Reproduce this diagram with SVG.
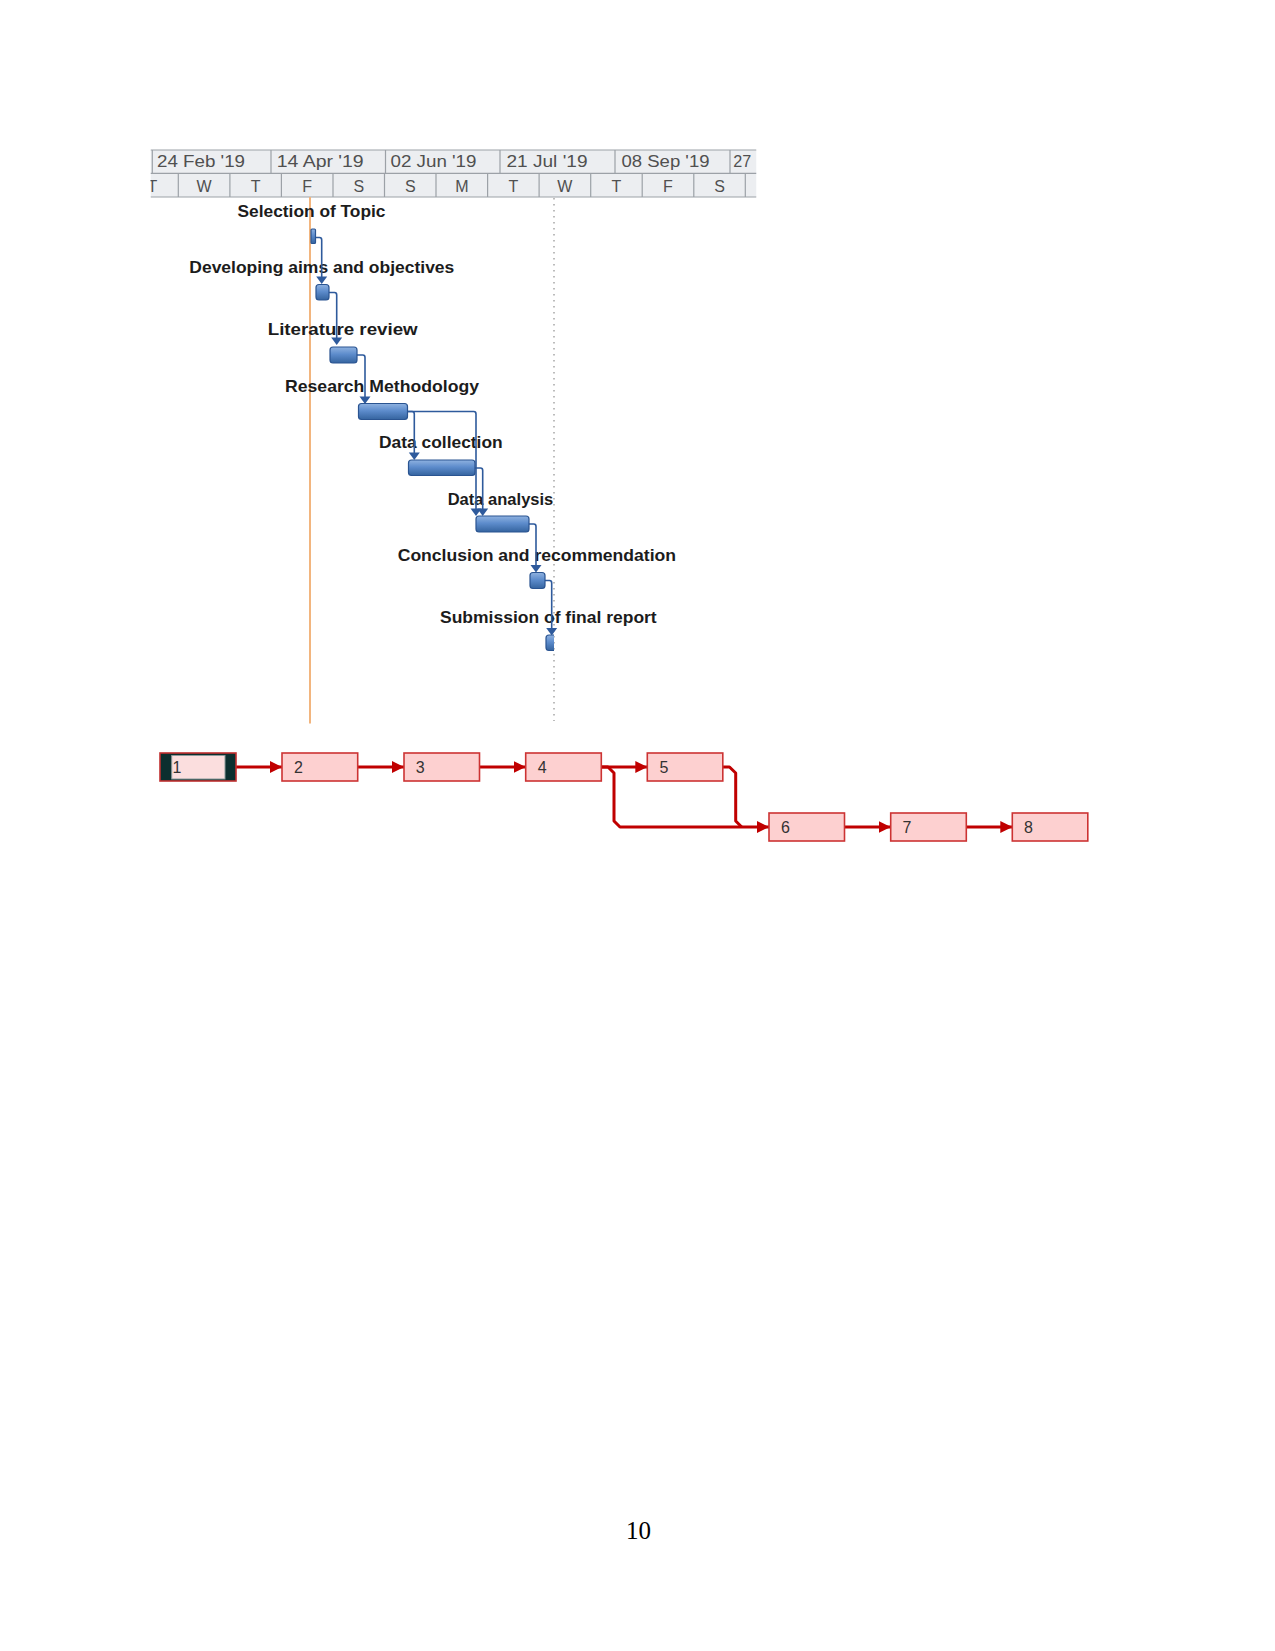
<svg xmlns="http://www.w3.org/2000/svg" width="1275" height="1651" viewBox="0 0 1275 1651">
<style>
.hdr{font-family:"Liberation Sans",Arial,sans-serif;font-size:16px;fill:#505050}
.day{font-family:"Liberation Sans",Arial,sans-serif;font-size:16px;fill:#505050;text-anchor:middle}
.lbl{font-family:"Liberation Sans",Arial,sans-serif;font-size:16.5px;font-weight:bold;fill:#1c1c1c}
.bar{fill:url(#barGrad);stroke:#2a5491;stroke-width:1.2}
.gc{fill:none;stroke:#2e5a9c;stroke-width:1.6}
.gh{fill:#2e5a9c}
.box{fill:#fdd0d0;stroke:#cc3333;stroke-width:1.6}
.num{font-family:"Liberation Sans",Arial,sans-serif;font-size:16px;fill:#333}
.nc{fill:none;stroke:#c00000;stroke-width:3;stroke-linejoin:round}
</style>
<defs>
<linearGradient id="barGrad" x1="0" y1="0" x2="0" y2="1">
<stop offset="0" stop-color="#8fb2e0"/>
<stop offset="0.45" stop-color="#5d8ccc"/>
<stop offset="1" stop-color="#35649f"/>
</linearGradient>
<marker id="ra" viewBox="0 0 10 10" refX="10" refY="5" markerUnits="userSpaceOnUse" markerWidth="12" markerHeight="12" orient="auto">
<path d="M0,0 L10,5 L0,10 z" fill="#c00000"/>
</marker>
<clipPath id="hc"><rect x="150.5" y="149" width="606" height="50"/></clipPath>
<clipPath id="bc"><rect x="540" y="630" width="14" height="25"/></clipPath>
</defs>
<rect width="1275" height="1651" fill="#ffffff"/>

<g id="timescale" clip-path="url(#hc)">
<rect x="150.5" y="150" width="606" height="47" fill="#eceef1"/>
<g stroke="#9ca1a7" stroke-width="1.2">
<line x1="150.5" y1="150" x2="756.5" y2="150"/>
<line x1="150.5" y1="173.3" x2="756.5" y2="173.3"/>
<line x1="150.5" y1="197" x2="756.5" y2="197"/>
<line x1="152.3" y1="150" x2="152.3" y2="173.3"/>
<line x1="271" y1="150" x2="271" y2="173.3"/>
<line x1="385.5" y1="150" x2="385.5" y2="173.3"/>
<line x1="500" y1="150" x2="500" y2="173.3"/>
<line x1="615" y1="150" x2="615" y2="173.3"/>
<line x1="730" y1="150" x2="730" y2="173.3"/>
<line x1="178.3" y1="173.3" x2="178.3" y2="197"/>
<line x1="229.9" y1="173.3" x2="229.9" y2="197"/>
<line x1="281.4" y1="173.3" x2="281.4" y2="197"/>
<line x1="333" y1="173.3" x2="333" y2="197"/>
<line x1="384.5" y1="173.3" x2="384.5" y2="197"/>
<line x1="436" y1="173.3" x2="436" y2="197"/>
<line x1="487.6" y1="173.3" x2="487.6" y2="197"/>
<line x1="539.1" y1="173.3" x2="539.1" y2="197"/>
<line x1="590.7" y1="173.3" x2="590.7" y2="197"/>
<line x1="642.2" y1="173.3" x2="642.2" y2="197"/>
<line x1="693.8" y1="173.3" x2="693.8" y2="197"/>
<line x1="745.3" y1="173.3" x2="745.3" y2="197"/>
</g>
<text class="hdr" x="157" y="166.5" textLength="88" lengthAdjust="spacingAndGlyphs">24 Feb '19</text>
<text class="hdr" x="276.7" y="166.5" textLength="87" lengthAdjust="spacingAndGlyphs">14 Apr '19</text>
<text class="hdr" x="390.5" y="166.5" textLength="86" lengthAdjust="spacingAndGlyphs">02 Jun '19</text>
<text class="hdr" x="506.5" y="166.5" textLength="81" lengthAdjust="spacingAndGlyphs">21 Jul '19</text>
<text class="hdr" x="621.5" y="166.5" textLength="88" lengthAdjust="spacingAndGlyphs">08 Sep '19</text>
<text class="hdr" x="733.3" y="166.5" textLength="18" lengthAdjust="spacingAndGlyphs">27</text>
<text class="day" x="152.5" y="191.5">T</text>
<text class="day" x="204.1" y="191.5">W</text>
<text class="day" x="255.7" y="191.5">T</text>
<text class="day" x="307.2" y="191.5">F</text>
<text class="day" x="358.8" y="191.5">S</text>
<text class="day" x="410.3" y="191.5">S</text>
<text class="day" x="461.8" y="191.5">M</text>
<text class="day" x="513.4" y="191.5">T</text>
<text class="day" x="564.9" y="191.5">W</text>
<text class="day" x="616.5" y="191.5">T</text>
<text class="day" x="668" y="191.5">F</text>
<text class="day" x="719.6" y="191.5">S</text>
</g>

<g id="gridlines">
<line x1="310" y1="197" x2="310" y2="723.5" stroke="#f2b57e" stroke-width="2"/>
<line x1="554" y1="198" x2="554" y2="721" stroke="#a6a6a6" stroke-width="1.5" stroke-dasharray="1.5 4.5"/>
</g>

<g id="labels">
<text class="lbl" x="237.5" y="216.7" textLength="148" lengthAdjust="spacingAndGlyphs">Selection of Topic</text>
<text class="lbl" x="189.3" y="272.7" textLength="265" lengthAdjust="spacingAndGlyphs">Developing aims and objectives</text>
<text class="lbl" x="267.7" y="335" textLength="150" lengthAdjust="spacingAndGlyphs">Literature review</text>
<text class="lbl" x="285" y="391.7" textLength="194" lengthAdjust="spacingAndGlyphs">Research Methodology</text>
<text class="lbl" x="379" y="448.3" textLength="123.7" lengthAdjust="spacingAndGlyphs">Data collection</text>
<text class="lbl" x="447.7" y="505" textLength="105.6" lengthAdjust="spacingAndGlyphs">Data analysis</text>
<text class="lbl" x="397.7" y="560.7" textLength="278.3" lengthAdjust="spacingAndGlyphs">Conclusion and recommendation</text>
<text class="lbl" x="440" y="622.7" textLength="216.7" lengthAdjust="spacingAndGlyphs">Submission of final report</text>
</g>

<g id="gantt-links">
<path class="gc" d="M315,237.5 H319.5 Q321.7,237.5 321.7,240 V278"/>
<polygon class="gh" points="316.2,276.5 327.2,276.5 321.7,284"/>
<path class="gc" d="M329,292.5 H334.5 Q336.7,292.5 336.7,295 V339"/>
<polygon class="gh" points="331.2,337.5 342.2,337.5 336.7,345"/>
<path class="gc" d="M357,355 H362.8 Q365,355 365,357.5 V398"/>
<polygon class="gh" points="359.5,396.5 370.5,396.5 365,404"/>
<path class="gc" d="M407.5,411.5 H473.8 Q476,411.5 476,414 V510"/>
<path class="gc" d="M407.5,411.5 H412.1 Q414.3,411.5 414.3,414 V454"/>
<polygon class="gh" points="408.8,452.5 419.8,452.5 414.3,460"/>
<path class="gc" d="M475,468 H480.5 Q482.7,468 482.7,470.5 V510"/>
<polygon class="gh" points="470.5,508.5 481.5,508.5 476,516"/>
<polygon class="gh" points="477.2,508.5 488.2,508.5 482.7,516"/>
<path class="gc" d="M529,524 H533.8 Q536,524 536,526.5 V566"/>
<polygon class="gh" points="530.5,565 541.5,565 536,572.5"/>
<path class="gc" d="M545,580.5 H549.5 Q551.7,580.5 551.7,583 V629"/>
<polygon class="gh" points="546.2,628 557.2,628 551.7,635.5"/>
</g>

<g id="task1"><rect class="bar" x="311" y="229" width="4.5" height="14.5" rx="1"/></g>
<g id="task2"><rect class="bar" x="316" y="284.5" width="13" height="15.5" rx="3"/></g>
<g id="task3"><rect class="bar" x="330" y="347" width="27" height="16" rx="3"/></g>
<g id="task4"><rect class="bar" x="358.5" y="403.5" width="49" height="16" rx="3"/></g>
<g id="task5"><rect class="bar" x="408.5" y="460" width="66.5" height="15.5" rx="3"/></g>
<g id="task6"><rect class="bar" x="476" y="516" width="53" height="16" rx="3"/></g>
<g id="task7"><rect class="bar" x="530" y="572.5" width="15" height="16" rx="3"/></g>
<g id="task8" clip-path="url(#bc)"><rect class="bar" x="546" y="635" width="12" height="15.5" rx="3"/></g>

<g id="network-links">
<line class="nc" x1="236" y1="767" x2="282" y2="767" marker-end="url(#ra)"/>
<line class="nc" x1="357.7" y1="767" x2="404" y2="767" marker-end="url(#ra)"/>
<line class="nc" x1="479.5" y1="767" x2="525.7" y2="767" marker-end="url(#ra)"/>
<line class="nc" x1="601.3" y1="767" x2="647.3" y2="767" marker-end="url(#ra)"/>
<path class="nc" d="M601.3,767 H608 L614,773 V821 L620,827 H769" marker-end="url(#ra)"/>
<path class="nc" d="M722.8,767 H729.5 L735.7,773 V821 L741.7,827"/>
<line class="nc" x1="844.5" y1="827" x2="890.7" y2="827" marker-end="url(#ra)"/>
<line class="nc" x1="966.3" y1="827" x2="1012.3" y2="827" marker-end="url(#ra)"/>
</g>

<g id="node1">
<rect x="160" y="753" width="76" height="28" fill="#0c2f2f" stroke="#c03030" stroke-width="1.6"/>
<rect x="171.7" y="755.5" width="53.3" height="23.5" fill="#fbdede" stroke="#8a9a9a" stroke-width="1"/>
<text class="num" x="172.5" y="773.3">1</text>
</g>
<g id="node2"><rect class="box" x="282" y="753" width="75.7" height="28"/><text class="num" x="294" y="773.3">2</text></g>
<g id="node3"><rect class="box" x="404" y="753" width="75.5" height="28"/><text class="num" x="415.7" y="773.3">3</text></g>
<g id="node4"><rect class="box" x="525.7" y="753" width="75.6" height="28"/><text class="num" x="537.7" y="773.3">4</text></g>
<g id="node5"><rect class="box" x="647.3" y="753" width="75.5" height="28"/><text class="num" x="659.5" y="773.3">5</text></g>
<g id="node6"><rect class="box" x="769" y="813" width="75.5" height="28"/><text class="num" x="781" y="833.3">6</text></g>
<g id="node7"><rect class="box" x="890.7" y="813" width="75.6" height="28"/><text class="num" x="902.5" y="833.3">7</text></g>
<g id="node8"><rect class="box" x="1012.3" y="813" width="75.5" height="28"/><text class="num" x="1024" y="833.3">8</text></g>

<text x="626" y="1539" font-family="'Liberation Serif','Times New Roman',serif" font-size="25" fill="#000">10</text>
</svg>
